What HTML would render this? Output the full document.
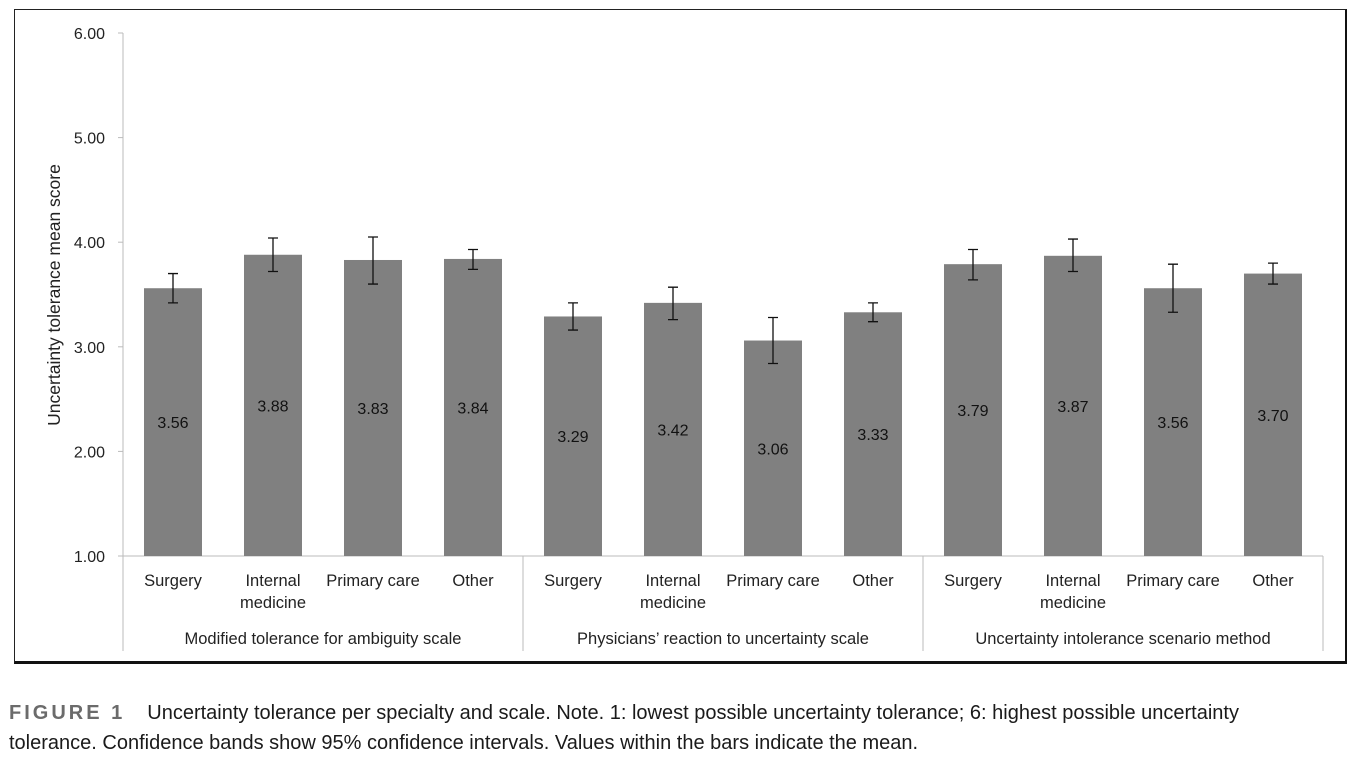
<!DOCTYPE html>
<html><head><meta charset="utf-8"><style>
body{margin:0;width:1366px;height:757px;background:#fff;overflow:hidden;font-family:"Liberation Sans",sans-serif}
#frame{position:absolute;left:14px;top:9px;width:1330px;height:651px;border:1px solid #222;border-bottom:3px solid #111;border-right:2px solid #111}
#cap{position:absolute;left:9px;top:698px;font-size:20px;line-height:30px;color:#1a1a1a;width:1295px}
#cap b{color:#6b6b6b;letter-spacing:3px;margin-right:22px}
</style></head><body>
<div id="frame"></div>
<svg id="chart" width="1366" height="700" style="position:absolute;left:0;top:0"></svg>
<div id="cap"><b>FIGURE 1</b>Uncertainty tolerance per specialty and scale. Note. 1: lowest possible uncertainty tolerance; 6: highest possible uncertainty tolerance. Confidence bands show 95% confidence intervals. Values within the bars indicate the mean.</div>
<script>
const groups=["Modified tolerance for ambiguity scale","Physicians’ reaction to uncertainty scale","Uncertainty intolerance scenario method"];
const specialties=["Surgery","Internal|medicine","Primary care","Other"];
const means=[3.56,3.88,3.83,3.84,3.29,3.42,3.06,3.33,3.79,3.87,3.56,3.70];
const ciHigh=[3.70,4.04,4.05,3.93,3.42,3.57,3.28,3.42,3.93,4.03,3.79,3.80];
const ciLow=[3.42,3.72,3.60,3.74,3.16,3.26,2.84,3.24,3.64,3.72,3.33,3.60];
const yTicks=["1.00","2.00","3.00","4.00","5.00","6.00"];
const svg=document.getElementById('chart');
const NS='http://www.w3.org/2000/svg';
const x0=123,slot=100,yTop=33,yBot=556;
const y=v=>yBot-(v-1)/5*(yBot-yTop);
function mk(t,a,txt){const e=document.createElementNS(NS,t);for(const k in a)e.setAttribute(k,a[k]);if(txt!=null)e.textContent=txt;svg.appendChild(e);return e;}
let e=mk('line',{x1:x0,y1:yTop,x2:x0,y2:yBot,stroke:'#bbb'});

yTicks.forEach(t=>{const yy=y(parseFloat(t));
 const l=mk('line',{x1:x0-5,y1:yy,x2:x0,y2:yy,stroke:'#bbb'});
 
 const tx=mk('text',{x:x0-18,y:yy+6,'text-anchor':'end','font-size':16,fill:'#222'},t);
 });
const xEnd=x0+slot*means.length;
e=mk('line',{x1:x0,y1:yBot,x2:xEnd,y2:yBot,stroke:'#bbb'});

for(let g=0;g<=groups.length;g++){const xx=x0+g*400;
 const l=mk('line',{x1:xx,y1:yBot,x2:xx,y2:651,stroke:'#bbb'});
 }
groups.forEach((g,i)=>{const t=mk('text',{x:x0+i*400+200,y:644,'text-anchor':'middle','font-size':16.5,fill:'#222'},g);
 });
const yl=mk('text',{transform:'translate(60,295) rotate(-90)','text-anchor':'middle','font-size':17.5,fill:'#222'},'Uncertainty tolerance mean score');

means.forEach((m,i)=>{const cx=x0+slot*i+slot/2;
 const r=mk('rect',{x:cx-29,y:y(m),width:58,height:yBot-y(m),fill:'#808080'});
 
 const el=mk('path',{d:`M${cx},${y(ciHigh[i])}V${y(ciLow[i])}M${cx-5},${y(ciHigh[i])}H${cx+5}M${cx-5},${y(ciLow[i])}H${cx+5}`,stroke:'#111','stroke-width':1.3,fill:'none'});
 
 const v=mk('text',{x:cx,y:(y(m)+yBot)/2+6,'text-anchor':'middle','font-size':16,fill:'#111'},m.toFixed(2));
 
 const parts=specialties[i%4].split('|');
 parts.forEach((p,j)=>{const t=mk('text',{x:cx,y:586+j*22,'text-anchor':'middle','font-size':16.5,fill:'#222'},p);
  });
});
</script>
</body></html>
